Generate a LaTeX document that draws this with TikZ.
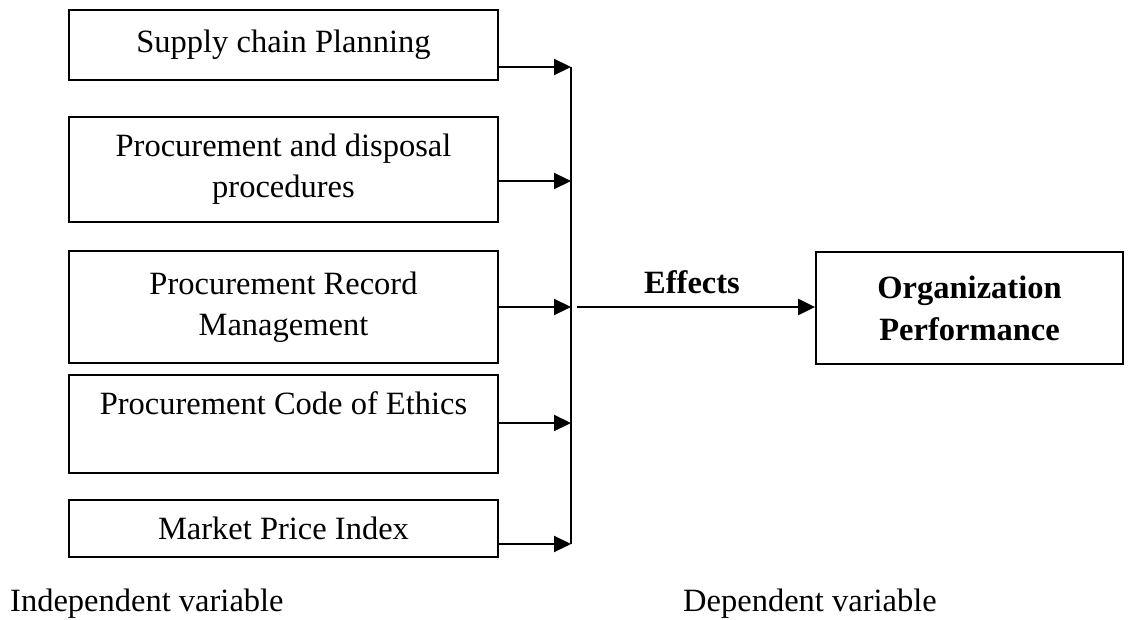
\documentclass[tikz,border=0pt]{standalone}
\usepackage{fontspec}
\setmainfont{Liberation Serif}
\usetikzlibrary{arrows.meta}
\begin{document}
\begin{tikzpicture}[x=1pt,y=-1pt,
  txt/.style={font=\fontsize{32.5}{41}\selectfont},
  box/.style={draw, line width=1.8pt, inner sep=0pt, align=center, txt, minimum width=429pt},
  arr/.style={line width=2.2pt, -{Triangle[length=17pt,width=16pt]}},
  lbl/.style={txt, inner sep=0pt}]
\useasboundingbox (0,0) rectangle (1129,620);
\node[box, minimum height=70pt]  (b1) at (283.5,45)    {Supply chain Planning};
\node[box, minimum height=105pt] (b2) at (283.5,169.5) {Procurement and disposal\\procedures};
\node[box, minimum height=112pt] (b3) at (283.5,307)   {Procurement Record\\Management};
\node[box, minimum height=98pt]  (b4) at (283.5,424)   {Procurement Code of Ethics\\\mbox{}};
\node[box, minimum height=57pt]  (b5) at (283.5,528.5) {Market Price Index};
\node[box, minimum width=307pt, minimum height=112pt, font=\fontsize{32.5}{42}\selectfont\bfseries] (op) at (969.5,308) {Organization\\Performance};
\coordinate (j1) at (571,67);
\coordinate (j2) at (571,181);
\coordinate (j3) at (571,307);
\coordinate (j4) at (571,423);
\coordinate (j5) at (571,544);
\coordinate (e0) at (577,307);
\draw[line width=2.2pt] (j1) -- (j5);
\foreach \i in {1,...,5} {\draw[arr] (j\i -| b\i.east) -- (j\i);}
\draw[arr] (e0) -- (e0 -| op.west);
\node[lbl, font=\fontsize{32.5}{41}\selectfont\bfseries, anchor=base] (eff) at (692,293) {Effects};
\node[lbl, anchor=base west] (ind) at (10,611) {Independent variable};
\node[lbl, anchor=base west] (dep) at (683,611) {Dependent variable};
\end{tikzpicture}
\end{document}
